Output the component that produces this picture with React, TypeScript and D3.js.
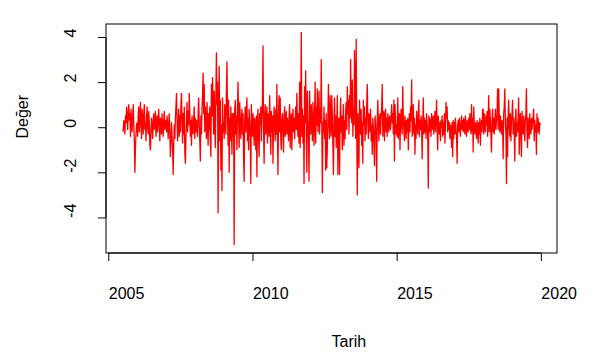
import React, { useEffect, useRef } from 'react';
import * as d3 from 'd3';

// weekly values, one array per year (2005 starts mid-year)
const y2005 = [-0.2,-0.1,0.3,0.1,-0.3,0.5,0.2,0.9,0.4,-0.1,0.7,1.0,0.3,0.6,-0.4,0.8,0.2,-0.2,0.5,1.0,0.1,-0.6,-2.0,-0.9,-0.3,0.1];
const y2006 = [0.2,-0.4,0.6,0.9,-0.2,0.3,1.1,0.1,-0.5,0.8,0.4,-0.3,0.6,1.0,-0.1,0.2,-0.6,0.5,0.9,0.0,-0.3,0.7,0.2,-0.8,-1.0,-0.2,0.4,0.1,-0.5,0.3,0.6,-0.1,0.2,0.7,-0.4,0.0,0.5,-0.2,0.3,0.8,0.1,-0.6,0.4,0.2,-0.3,0.6,0.0,-0.4,0.3,0.7,-0.1,0.2];
const y2007 = [0.3,-0.2,0.5,0.1,-0.5,0.2,0.6,-0.3,-1.3,-0.6,0.2,-0.4,-1.0,-2.1,-0.8,0.1,-0.5,0.4,0.9,1.5,0.3,-0.6,0.2,0.8,-0.4,0.5,-0.2,1.0,1.5,0.2,-0.7,0.6,-0.3,0.9,-1.1,-1.6,-0.5,0.4,1.1,-0.2,0.7,0.1,1.5,0.6,-0.4,0.3,-0.8,0.5,0.0,-0.3,0.4,0.9];
const y2008 = [-0.5,0.4,-0.2,0.3,0.0,-0.4,0.6,1.3,0.2,-0.6,-1.5,0.5,-0.3,0.8,1.4,2.4,0.6,1.9,-0.2,0.9,0.3,-0.5,1.1,0.2,-0.8,0.6,-0.1,0.9,-0.6,-1.3,1.9,0.5,2.2,1.0,-0.3,1.6,0.2,-0.9,1.4,3.3,1.0,2.0,-3.8,0.5,2.7,-0.6,1.2,-1.9,0.1,-2.8,1.3,-0.2];
const y2009 = [0.2,-0.5,1.0,0.3,-0.3,1.6,2.9,0.5,-0.8,1.2,-2.0,0.4,-0.6,0.9,0.1,-1.2,0.6,-0.4,0.6,-5.2,0.8,1.2,-0.3,0.5,-1.0,0.9,2.0,0.3,-0.9,1.1,0.4,-0.5,0.2,0.8,-0.3,0.6,-1.4,-2.4,0.3,0.9,-0.2,0.7,1.3,-0.6,0.4,-1.0,0.8,0.2,-0.4,-2.5,1.0,0.1];
const y2010 = [-0.4,0.6,0.2,-0.8,0.4,0.0,-1.0,0.5,-2.2,0.3,0.8,-0.5,-1.3,0.6,0.1,0.9,-0.6,0.4,1.2,3.6,-0.2,-1.6,0.5,1.0,-0.3,0.2,0.9,-0.7,0.6,0.3,-0.4,1.4,0.2,-1.2,0.7,-0.2,0.5,-1.6,0.3,0.9,0.0,-0.6,0.8,-0.3,1.9,-0.4,-2.1,0.6,1.4,-0.2,1.3,-0.5];
const y2011 = [-1.0,0.3,0.6,-0.2,-1.1,0.5,0.9,-0.4,0.2,0.7,-0.3,0.4,0.0,-0.6,0.5,1.0,-0.9,0.3,0.6,-1.0,0.2,0.8,-0.2,0.4,-0.5,0.3,0.9,-0.1,1.5,0.2,-0.4,0.6,-0.7,2.0,-0.9,0.5,4.2,-0.4,0.8,-0.7,0.5,-2.5,1.8,0.2,2.5,-0.3,-2.0,1.6,0.3,-0.5,-2.4,1.6];
const y2012 = [0.5,-0.3,1.0,0.2,-0.6,1.1,0.3,-0.8,0.6,2.0,-0.7,0.9,0.1,1.7,-0.2,0.4,1.6,-0.3,0.8,0.2,3.0,0.3,-2.9,0.2,-0.2,0.9,-0.5,0.3,-1.9,0.6,-1.8,-0.9,0.4,1.9,0.1,-0.5,1.4,0.3,-0.4,1.4,0.6,-0.8,-2.1,0.2,1.3,-0.4,0.5,-0.9,0.1,1.4,-2.1,0.3];
const y2013 = [0.4,-2.1,0.3,1.3,-0.2,0.5,-1.0,0.2,1.0,-0.8,0.3,-0.5,0.7,1.1,-0.1,1.8,0.6,1.2,-0.3,1.4,0.4,3.0,0.9,0.2,2.1,-0.4,0.8,0.1,3.4,1.2,-0.5,3.9,0.0,-3.0,0.6,-0.2,-1.8,1.2,0.4,-0.3,0.8,-0.8,0.2,-1.6,1.2,0.1,0.9,-0.6,0.4,-0.3,1.0,1.9];
const y2014 = [0.2,-0.5,0.6,-0.2,0.3,0.8,-0.6,0.1,-1.2,0.4,0.0,-0.7,-1.7,0.5,0.2,-0.4,-2.4,0.3,1.2,0.2,-0.6,0.4,0.6,-0.3,0.5,0.9,1.9,-0.4,0.3,0.7,-0.6,0.4,0.8,-0.2,0.4,-0.4,0.6,0.1,-0.2,0.5,0.3,-0.1,0.5,1.0,0.2,0.6,-0.3,1.2,-1.5,1.0,0.4,-0.3];
const y2015 = [0.1,-0.4,1.3,-0.5,0.2,0.6,-1.0,0.3,0.8,0.0,-0.3,1.8,0.4,-0.1,-0.6,0.5,0.2,-0.5,0.3,-0.2,0.4,-1.0,0.1,0.6,-0.2,0.9,0.3,2.1,-0.4,0.2,1.0,-0.3,0.4,-1.2,0.1,-0.5,0.7,0.2,-0.3,0.6,1.2,-0.4,0.3,-0.1,0.5,0.0,-1.4,0.2,1.3,-0.3,0.4,-0.2];
const y2016 = [0.3,-0.5,0.6,0.1,-0.3,-2.7,0.5,-0.2,0.4,0.0,-0.4,0.6,0.2,-0.1,0.5,-0.3,0.3,0.7,-0.2,0.4,1.2,-0.1,-1.0,0.5,0.1,-0.3,0.2,-0.6,0.3,0.0,0.5,-0.4,0.2,-0.3,0.6,-0.7,0.1,1.1,0.4,0.9,-0.2,0.3,-0.1,0.2,-0.5,0.1,0.0,-0.9,0.2,-1.3,0.3,-0.5];
const y2017 = [0.2,-0.3,0.4,-0.1,-0.4,-1.6,0.1,0.3,-0.2,0.4,0.0,-0.4,0.2,0.5,-0.1,0.3,-0.2,0.4,0.1,-0.3,0.5,0.0,-0.4,0.3,0.1,-0.2,0.4,-0.1,0.6,0.2,-0.3,1.0,-0.2,0.4,-1.1,0.9,0.1,-0.3,0.2,0.0,-0.5,0.3,0.1,-0.7,0.2,-0.3,0.4,-0.8,0.1,0.3,-0.2,0.8];
const y2018 = [0.8,-0.3,0.6,0.0,-0.2,0.5,0.1,0.7,-0.4,0.3,1.4,-0.2,0.8,0.3,-0.4,-1.1,0.3,0.8,-0.2,0.4,-0.3,0.2,0.8,-0.1,0.3,0.6,1.7,-0.1,1.7,0.4,-0.2,0.5,0.0,-0.3,0.3,0.1,-1.4,0.6,0.9,1.7,0.2,-0.3,-2.5,0.4,-1.3,0.5,1.2,0.0,-0.4,0.6,-0.6,0.3];
const y2019 = [0.6,1.2,-0.3,0.4,-0.1,-1.5,0.3,0.8,-0.4,0.2,-0.2,0.5,1.3,-1.2,0.4,0.6,-0.5,-1.3,0.7,0.1,-0.3,0.5,0.0,-0.6,0.3,0.6,1.7,-0.2,-0.9,0.4,0.1,-0.5,0.6,0.0,-0.3,0.4,-0.1,0.2,0.5,0.8,-0.6,0.3,-0.2,0.1,-1.2,0.6,-0.2,0.4,0.0,-0.3,0.2,0.1];

const years = [2005, 2006, 2007, 2008, 2009, 2010, 2011, 2012, 2013, 2014, 2015, 2016, 2017, 2018, 2019];
const valuesByYear = [y2005, y2006, y2007, y2008, y2009, y2010, y2011, y2012, y2013, y2014, y2015, y2016, y2017, y2018, y2019];
const xTicks = [2005, 2010, 2015, 2020];
const yTicks = [-4, -2, 0, 2, 4];

const W = 598;
const H = 358;
const FONT = 'Liberation Sans, Arial, Helvetica, sans-serif';

// R-style range: data extent padded by 4% on each side
const pad = (ext) => {
        const d = (ext[1] - ext[0]) * 0.04;
        return [ext[0] - d, ext[1] + d];
};

const App = () => {
        const svgRef = useRef(null);

        useEffect(() => {
                document.body.style.margin = '0';

                const data = [];
                valuesByYear.forEach((vals, k) => {
                        const offset = 52 - vals.length;
                        vals.forEach((v, i) => data.push({ t: years[k] + (offset + i) / 52, v }));
                });

                const margin = { top: 24, right: 41, bottom: 105, left: 106 };
                const svg = d3.select(svgRef.current);
                svg.selectAll('*').remove();

                const x = d3.scaleLinear()
      .domain(pad(d3.extent(data, d => d.t)))
      .range([margin.left, W - margin.right]);

                const y = d3.scaleLinear()
      .domain(pad(d3.extent(data, d => d.v)))
      .range([H - margin.bottom, margin.top]);

                // series line
                svg.append('path')
      .datum(data)
      .attr('fill', 'none')
      .attr('stroke', '#ff0000')
      .attr('stroke-width', 1.3)
      .attr('stroke-linejoin', 'round')
      .attr('d', d3.line().x(d => x(d.t)).y(d => y(d.v)));

                // box
                svg.append('rect')
      .attr('x', margin.left)
      .attr('y', margin.top)
      .attr('width', W - margin.left - margin.right)
      .attr('height', H - margin.top - margin.bottom)
      .attr('fill', 'none')
      .attr('stroke', 'black')
      .attr('stroke-width', 1);

                // x axis; labels start at the tick (text not centred in the original)
                const gx = svg.append('g')
      .attr('transform', `translate(0, ${H - margin.bottom})`)
      .call(d3.axisBottom(x).tickValues(xTicks).tickSize(8).tickFormat(d => String(d)));
                gx.select('.domain').attr('d', `M${x(xTicks[0])},0H${x(xTicks[xTicks.length - 1])}`);
                gx.selectAll('.tick text')
      .attr('font-family', FONT)
      .attr('font-size', 16)
      .attr('fill', 'black')
      .attr('text-anchor', 'start')
      .attr('y', 46)
      .attr('dy', 0);

                // y axis, labels rotated like R's las=0
                const gy = svg.append('g')
      .attr('transform', `translate(${margin.left}, 0)`)
      .call(d3.axisLeft(y).tickValues(yTicks).tickSize(8).tickFormat(d => String(d)));
                gy.select('.domain').attr('d', `M0,${y(yTicks[0])}V${y(yTicks[yTicks.length - 1])}`);
                gy.selectAll('.tick text')
      .attr('font-family', FONT)
      .attr('font-size', 16)
      .attr('fill', 'black')
      .attr('text-anchor', 'start')
      .attr('dy', 0)
      .attr('x', 0)
      .attr('transform', 'translate(-30, 0) rotate(-90)');

                svg.append('text')
      .attr('x', (margin.left + W - margin.right) / 2)
      .attr('y', 347)
      .attr('text-anchor', 'start')
      .attr('font-family', FONT)
      .attr('font-size', 16)
      .text('Tarih');

                svg.append('text')
      .attr('transform', `translate(28, ${(margin.top + H - margin.bottom) / 2}) rotate(-90)`)
      .attr('text-anchor', 'start')
      .attr('font-family', FONT)
      .attr('font-size', 16)
      .text('Değer');
        }, []);

        return (
                <svg ref={svgRef} width={W} height={H} style={{ display: 'block', background: 'white' }}></svg>
        );
};

export default App;
